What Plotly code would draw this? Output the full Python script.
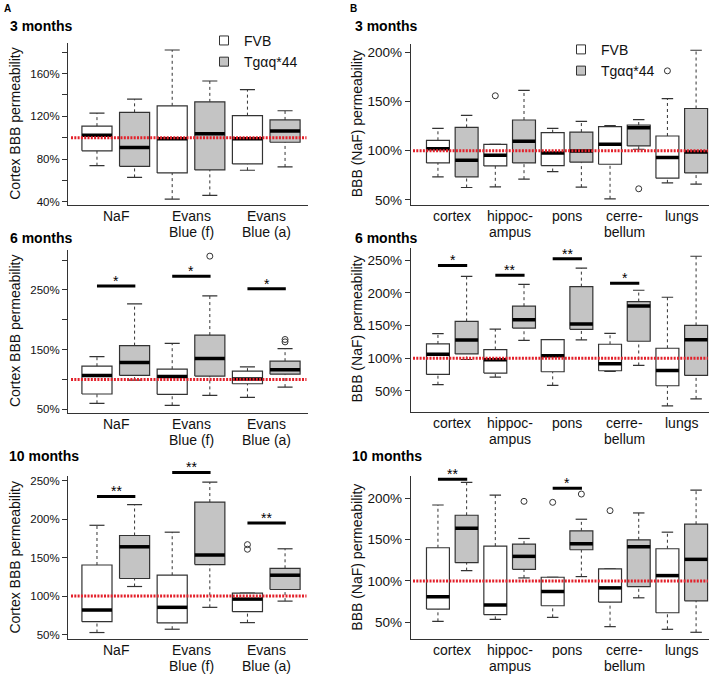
import plotly.graph_objects as go

# ---------------- data ----------------
# each box: [lower whisker, Q1, median, Q3, upper whisker]
a_categories = ["NaF", "Evans<br>Blue (f)", "Evans<br>Blue (a)"]
b_categories = ["cortex", "hippoc-<br>ampus", "pons", "cerre-<br>bellum", "lungs"]
groups = ["FVB", "Tgαq*44"]

# Panel A, 3 months (cortex)
a3_fvb = [[73.8, 87.7, 102.2, 110.8, 123.0], [42.5, 67.0, 99.0, 129.8, 182.0], [69.5, 75.4, 99.0, 120.6, 145.0]]
a3_tg = [[62.8, 73.2, 90.8, 123.7, 136.0], [46.0, 69.8, 103.7, 133.5, 153.0], [72.6, 95.7, 106.2, 116.6, 125.2]]
a3_out_fvb = [[], [], []]
a3_out_tg = [[], [], []]
a3_sig = []

# Panel A, 6 months
a6_fvb = [[60.0, 75.6, 106.7, 122.2, 138.3], [56.7, 75.0, 105.0, 117.2, 160.6], [70.0, 92.8, 100.6, 113.9, 121.1]]
a6_tg = [[98.9, 106.7, 128.3, 156.7, 226.7], [73.3, 105.6, 135.0, 174.4, 240.0], [87.2, 108.9, 116.1, 130.6, 151.7]]
a6_out_fvb = [[], [], []]
a6_out_tg = [[], [306.7], [163.0, 167.0]]
a6_sig = [[0, 256.7, "*"], [1, 273.0, "*"], [2, 252.0, "*"]]

# Panel A, 10 months
a10_fvb = [[52.6, 66.8, 81.9, 140.5, 192.2], [56.9, 65.1, 85.4, 127.2, 183.2], [65.5, 79.7, 96.1, 103.9, 103.9]]
a10_tg = [[112.5, 122.9, 164.2, 178.9, 219.0], [85.4, 141.0, 153.5, 222.4, 248.3], [93.5, 108.6, 127.2, 136.2, 161.6]]
a10_out_fvb = [[], [], [161.0, 167.0]]
a10_out_tg = [[], [], []]
a10_sig = [[0, 229.8, "**"], [1, 261.0, "**"], [2, 195.3, "**"]]

# Panel B, 3 months (NaF, regions)
b3_fvb = [[73.4, 87.6, 102.1, 110.6, 122.8], [63.2, 84.5, 95.4, 106.5, 106.5], [78.8, 84.9, 97.7, 118.4, 122.8],
          [51.0, 86.2, 106.5, 124.5, 125.5], [67.3, 72.0, 93.0, 115.0, 153.0]]
b3_tg = [[62.5, 73.4, 90.3, 123.8, 136.0], [71.0, 87.6, 109.6, 131.3, 161.4], [62.9, 88.3, 99.8, 119.0, 129.9],
         [101.5, 104.9, 123.5, 126.2, 131.6], [66.0, 77.4, 98.8, 143.0, 202.4]]
b3_out_fvb = [[], [156.0], [], [], [181.4]]
b3_out_tg = [[], [], [], [61.2], []]
b3_sig = []

# Panel B, 6 months
b6_fvb = [[59.6, 75.3, 106.2, 121.9, 137.6], [71.3, 77.4, 97.6, 113.3, 144.7], [58.6, 79.4, 103.7, 128.5, 128.5],
          [79.9, 80.9, 91.5, 121.4, 138.1], [27.2, 58.0, 81.4, 115.3, 193.3]]
b6_tg = [[98.1, 106.7, 128.0, 156.3, 225.2], [127.5, 146.2, 158.9, 179.6, 213.0], [128.0, 144.2, 152.3, 209.5, 237.8],
         [89.0, 126.0, 180.1, 186.7, 204.0], [37.9, 73.8, 128.5, 150.3, 256.0]]
b6_out_fvb = [[], [], [], [], []]
b6_out_tg = [[], [], [], [], []]
b6_sig = [[0, 242.0, "*"], [1, 227.0, "**"], [2, 252.0, "**"], [3, 214.6, "*"]]

# Panel B, 10 months
b10_fvb = [[51.2, 66.0, 80.8, 140.0, 191.6], [53.6, 59.2, 70.8, 142.0, 203.6], [56.0, 70.0, 87.2, 104.4, 104.4],
           [44.8, 74.4, 91.6, 114.4, 114.4], [41.6, 61.6, 106.4, 138.8, 158.8]]
b10_tg = [[112.4, 122.0, 163.6, 179.2, 218.8], [103.6, 114.0, 129.6, 144.4, 151.2], [105.2, 137.6, 144.8, 160.4, 174.4],
          [79.6, 93.2, 141.2, 149.6, 182.0], [38.0, 76.0, 126.0, 168.4, 209.6]]
b10_out_fvb = [[], [], [194.8], [184.8], []]
b10_out_tg = [[], [196.0], [204.8], [], []]
b10_sig = [[0, 222.8, "**"], [2, 211.9, "*"]]

# ---------------- style ----------------
FONT = "Liberation Sans, Arial, Helvetica, sans-serif"
EDGE = "#333333"
GREY = "#c4c4c4"
RED = "#e3202a"
W, H = 709, 678

fig = go.Figure()


def px_x(p):
    return p / W


def px_y(p):
    return 1 - p / H


panels = [
    dict(n=1, cats=a_categories, fvb=a3_fvb, tg=a3_tg, of=a3_out_fvb, ot=a3_out_tg, sig=a3_sig,
         xd=(68, 308), yd=(42, 205), yr=(37.2, 188.8), xr=(0.23, 6.61),
         tv=[40, 60, 80, 100, 120, 140, 160, 180], lab=[40, 80, 120, 160], tf=11.5),
    dict(n=2, cats=b_categories, fvb=b3_fvb, tg=b3_tg, of=b3_out_fvb, ot=b3_out_tg, sig=b3_sig,
         xd=(410.7, 709), yd=(43, 205), yr=(44.9, 209.0), xr=(0.05, 10.45),
         tv=[50, 100, 150, 200], lab=[50, 100, 150, 200], tf=13.5),
    dict(n=3, cats=a_categories, fvb=a6_fvb, tg=a6_tg, of=a6_out_fvb, ot=a6_out_tg, sig=a6_sig,
         xd=(68, 308), yd=(250, 414), yr=(44.5, 317.8), xr=(0.23, 6.61),
         tv=[50, 100, 150, 200, 250, 300], lab=[50, 150, 250], tf=11.5),
    dict(n=4, cats=b_categories, fvb=b6_fvb, tg=b6_tg, of=b6_out_fvb, ot=b6_out_tg, sig=b6_sig,
         xd=(410.7, 709), yd=(248, 413), yr=(18.5, 269.3), xr=(0.05, 10.45),
         tv=[50, 100, 150, 200, 250], lab=[50, 100, 150, 200, 250], tf=13.5),
    dict(n=5, cats=a_categories, fvb=a10_fvb, tg=a10_tg, of=a10_out_fvb, ot=a10_out_tg, sig=a10_sig,
         xd=(68, 308), yd=(478, 641.7), yr=(44.3, 256.1), xr=(0.23, 6.61),
         tv=[50, 100, 150, 200, 250], lab=[50, 100, 150, 200, 250], tf=11.5),
    dict(n=6, cats=b_categories, fvb=b10_fvb, tg=b10_tg, of=b10_out_fvb, ot=b10_out_tg, sig=b10_sig,
         xd=(410.7, 709), yd=(478.3, 641.7), yr=(30.0, 226.0), xr=(0.05, 10.45),
         tv=[50, 100, 150, 200], lab=[50, 100, 150, 200], tf=13.5),
]

HALF = 0.4   # half box width (boxwex 0.8)
STAPLE = 0.2
EXTRA_PX = 40  # headroom (px) of the overlay axes that carry significance bars

for P in panels:
    n = P["n"]
    xa = "x" if n == 1 else f"x{n}"
    ya = "y" if n == 1 else f"y{n}"
    wx, wy, sx, sy = [], [], [], []
    bx = {0: [], 1: []}
    by = {0: [], 1: []}
    mx, my, ox, oy = [], [], [], []
    for i in range(len(P["cats"])):
        for g, (stats, outs) in enumerate([(P["fvb"][i], P["of"][i]), (P["tg"][i], P["ot"][i])]):
            p = 2 * i + 1 + g
            lo, q1, med, q3, hi = stats
            if lo < q1:
                wx += [p, p, None]
                wy += [lo, q1, None]
            if hi > q3:
                wx += [p, p, None]
                wy += [q3, hi, None]
            sx += [p - STAPLE, p + STAPLE, None, p - STAPLE, p + STAPLE, None]
            sy += [lo, lo, None, hi, hi, None]
            bx[g] += [p - HALF, p + HALF, p + HALF, p - HALF, p - HALF, None]
            by[g] += [q1, q1, q3, q3, q1, None]
            mx += [p - HALF, p + HALF, None]
            my += [med, med, None]
            for o in outs:
                ox.append(p)
                oy.append(o)
    common = dict(xaxis=xa, yaxis=ya, showlegend=False, hoverinfo="skip")
    fig.add_trace(go.Scatter(x=wx, y=wy, mode="lines", line=dict(color=EDGE, width=1, dash="3px,3px"), **common))
    fig.add_trace(go.Scatter(x=sx, y=sy, mode="lines", line=dict(color=EDGE, width=1.2), **common))
    fig.add_trace(go.Scatter(x=bx[0], y=by[0], mode="lines", fill="toself", fillcolor="white",
                             line=dict(color=EDGE, width=1.2), **common))
    fig.add_trace(go.Scatter(x=bx[1], y=by[1], mode="lines", fill="toself", fillcolor=GREY,
                             line=dict(color=EDGE, width=1.2), **common))
    fig.add_trace(go.Scatter(x=mx, y=my, mode="lines", line=dict(color="black", width=3.5), **common))
    if ox:
        fig.add_trace(go.Scatter(x=ox, y=oy, mode="markers",
                                 marker=dict(symbol="circle-open", size=6, color=EDGE, line=dict(width=1)),
                                 **common))
    # reference line at 100 %
    x0, x1 = P["xr"]
    fig.add_trace(go.Scatter(x=[x0 + 0.08, x1 - 0.04], y=[100, 100], mode="lines",
                             line=dict(color=RED, width=3, dash="2px,1.3px"), **common))

    ncat = len(P["cats"])
    xkey = "xaxis" if n == 1 else f"xaxis{n}"
    ykey = "yaxis" if n == 1 else f"yaxis{n}"
    xdom = [px_x(P["xd"][0]), px_x(P["xd"][1])]
    fig.update_layout(**{
        xkey: dict(domain=xdom, range=list(P["xr"]), anchor=ya,
                   showgrid=False, zeroline=False, showline=True, linecolor=EDGE, linewidth=1,
                   showticklabels=False, ticks=""),
        ykey: dict(domain=[px_y(P["yd"][1]), px_y(P["yd"][0])], range=list(P["yr"]), anchor=xa,
                   showgrid=False, zeroline=False, showline=True, linecolor=EDGE, linewidth=1,
                   tickmode="array", tickvals=P["tv"],
                   ticktext=[f"{v}%" if v in P["lab"] else "" for v in P["tv"]],
                   ticks="outside", ticklen=5, tickcolor=EDGE, tickwidth=1,
                   tickfont=dict(family=FONT, size=P["tf"], color="#111")),
    })

    # category labels under the x axis
    for i, cat in enumerate(P["cats"]):
        for k, line in enumerate(cat.split("<br>")):
            fig.add_annotation(x=2 * i + 1.5, y=P["yr"][0], xref=xa, yref=ya, text=line, showarrow=False,
                               xanchor="center", yanchor="middle", yshift=-(11 + 16.5 * k),
                               font=dict(family=FONT, size=14, color="#111"))

    # significance bars on an invisible overlay axis pair with extra headroom (same scale)
    if P["sig"]:
        ox_n, oy_n = n + 6, n + 6
        oxa, oya = f"x{ox_n}", f"y{oy_n}"
        scale = (P["yr"][1] - P["yr"][0]) / (P["yd"][1] - P["yd"][0])
        top_val = P["yr"][1] + EXTRA_PX * scale
        fig.update_layout(**{
            f"xaxis{ox_n}": dict(domain=xdom, range=list(P["xr"]), anchor=oya, visible=False),
            f"yaxis{oy_n}": dict(domain=[px_y(P["yd"][1]), px_y(P["yd"][0] - EXTRA_PX)],
                                 range=[P["yr"][0], top_val], anchor=oxa, visible=False),
        })
        gx, gy = [], []
        for ci, yv, lab in P["sig"]:
            p = 2 * ci + 1
            gx += [p, p + 1.02, None]
            gy += [yv, yv, None]
            fig.add_annotation(x=p + 0.51, y=yv, xref=oxa, yref=oya, text=lab, showarrow=False,
                               font=dict(family=FONT, size=14, color="black"), yanchor="middle", yshift=5)
        fig.add_trace(go.Scatter(x=gx, y=gy, mode="lines", line=dict(color="black", width=3),
                                 xaxis=oxa, yaxis=oya, showlegend=False, hoverinfo="skip"))

    # y-axis titles
    title = "Cortex BBB permeability" if n % 2 == 1 else "BBB (NaF) permeability"
    tx = 15 if n % 2 == 1 else 357
    fig.add_annotation(x=px_x(tx), y=(px_y(P["yd"][0]) + px_y(P["yd"][1])) / 2, xref="paper", yref="paper",
                       text=title, textangle=-90, showarrow=False, xanchor="center", yanchor="middle",
                       font=dict(family=FONT, size=14, color="#111"))

# panel titles
for txt, x, y in [("3 months", 8, 25), ("6 months", 8, 238), ("10 months", 7, 458),
                  ("3 months", 353, 25), ("6 months", 353, 238), ("10 months", 350, 458)]:
    fig.add_annotation(x=px_x(x), y=px_y(y), xref="paper", yref="paper", text=f"<b>{txt}</b>",
                       showarrow=False, xanchor="left", yanchor="middle",
                       font=dict(family=FONT, size=14, color="black"))
for txt, x in [("A", 2), ("B", 348)]:
    fig.add_annotation(x=px_x(x), y=px_y(8), xref="paper", yref="paper", text=f"<b>{txt}</b>",
                       showarrow=False, xanchor="left", yanchor="middle",
                       font=dict(family=FONT, size=10, color="black"))

# legends
for leg in ["legend", "legend2"]:
    for g, col in zip(groups, ["white", GREY]):
        fig.add_trace(go.Scatter(x=[None], y=[None], mode="markers", name=g, legend=leg,
                                 marker=dict(symbol="square", size=9, color=col, line=dict(color=EDGE, width=1))))

legend_style = dict(bgcolor="rgba(0,0,0,0)", borderwidth=0, xanchor="left", yanchor="top",
                    font=dict(family=FONT, size=14, color="#111"), itemwidth=30, tracegroupgap=0)
fig.update_layout(
    width=W, height=H, margin=dict(l=0, r=0, t=0, b=0),
    paper_bgcolor="white", plot_bgcolor="rgba(0,0,0,0)",
    legend=dict(x=px_x(204), y=px_y(24), **legend_style),
    legend2=dict(x=px_x(561), y=px_y(33), **legend_style),
)

fig.write_html("out.html", config={"displayModeBar": False},
               post_script="document.body.style.margin='0px';")
